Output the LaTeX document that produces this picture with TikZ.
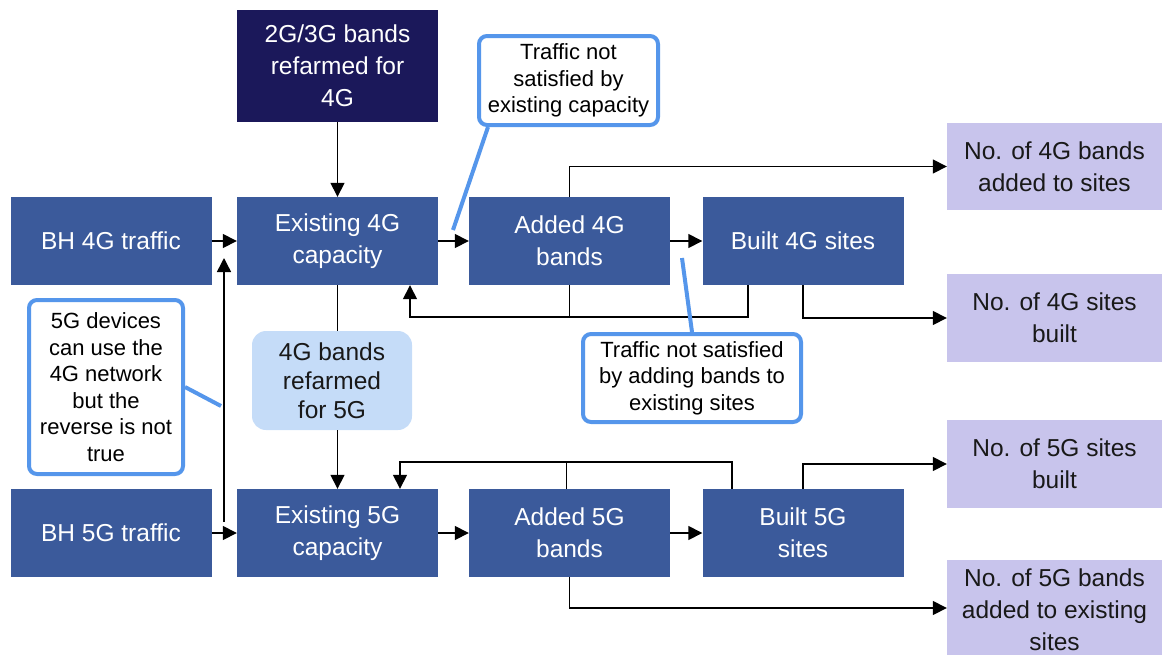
\documentclass[tikz,border=0pt]{standalone}
\usepackage{fontspec}
\setmainfont{Liberation Sans}
\usetikzlibrary{arrows.meta}

\definecolor{boxblue}{HTML}{3B5A9B}
\definecolor{navy}{HTML}{1B185A}
\definecolor{lavender}{HTML}{C8C4EC}
\definecolor{paleblue}{HTML}{C5DCF8}
\definecolor{calloutblue}{HTML}{5596EB}

\tikzset{
  stage/.style={fill=boxblue, text=white, minimum width=201pt, minimum height=88pt,
    inner sep=0pt, align=center, font=\fontsize{24.5}{32}\selectfont},
  source/.style={stage, fill=navy, minimum height=112pt},
  result/.style={fill=lavender, text=black!90, minimum width=215pt, minimum height=88pt,
    inner sep=0pt, align=center, font=\fontsize{24.5}{32}\selectfont},
  refarm/.style={fill=paleblue, text=black!90, rounded corners=14pt, minimum width=160pt,
    minimum height=99pt, inner sep=0pt, align=center, font=\fontsize{24.5}{29}\selectfont},
  note/.style={draw=calloutblue, line width=4pt, fill=white, rounded corners=8pt,
    inner sep=0pt, align=center, text=black, font=\fontsize{22}{26.5}\selectfont},
  link/.style={line width=1.5pt, draw=black},
  arr/.style={link, -{Triangle[length=14pt,width=14pt]}},
  pointer/.style={draw=calloutblue, line width=4pt},
}

\begin{document}
\begin{tikzpicture}[x=1pt,y=-1pt]
\useasboundingbox (0,0) rectangle (1162,654);

% 4G chain
\node[stage] (BH4G) at (111,241) {BH 4G traffic};
\node[stage] (Ex4G) at (337.5,241) {Existing 4G\\capacity};
\node[stage] (Add4G) at (569.5,241) {Added 4G\\bands};
\node[stage] (Built4G) at (803,241) {Built 4G sites};
\node[source] (G23) at (337.5,66) {2G/3G bands\\refarmed for\\4G};

% 5G chain
\node[stage] (BH5G) at (111,533) {BH 5G traffic};
\node[stage] (Ex5G) at (337.5,533) {Existing 5G\\capacity};
\node[stage] (Add5G) at (569.5,533) {Added 5G\\bands};
\node[stage] (Built5G) at (803,533) {Built 5G\\sites};

\node[refarm] (Ref5) at (332,380.5) {4G bands\\refarmed\\for 5G};

% outputs
\node[result, minimum height=87pt] (Out4B) at (1054.5,166.5) {No. of 4G bands\\added to sites};
\node[result] (Out4S) at (1054.5,318) {No. of 4G sites\\built};
\node[result] (Out5S) at (1054.5,464) {No. of 5G sites\\built};
\node[result, minimum height=100pt] (Out5B) at (1054.5,610) {No. of 5G bands\\added to existing\\sites};

% 4G connectors
\draw[arr] (G23.south) -- (Ex4G.north);
\draw[arr] (BH4G.east) -- (Ex4G.west);
\draw[arr] (Ex4G.east) -- (Add4G.west);
\draw[arr] (Add4G.east) -- (Built4G.west);
\draw[arr] (Add4G.north) |- (Out4B.west);
\draw[arr] (Built4G.south) |- (Out4S.west);
\draw[link] (Add4G.south) -- ++(0,32);
\draw[arr] ([xshift=-55pt]Built4G.south) -- ++(0,32) -| ([xshift=72.5pt]Ex4G.south);

% 4G capacity handed over to 5G
\draw[link] (Ex4G.south) -- (Ref5.north -| Ex4G.south);
\draw[arr] (Ref5.south -| Ex5G.north) -- (Ex5G.north);

% 5G devices also load the 4G network
\coordinate (up0) at (224,522);
\coordinate (up1) at (224,258);
\draw[arr] (up0) -- (up1);

% 5G connectors
\draw[arr] (BH5G.east) -- (Ex5G.west);
\draw[arr] (Ex5G.east) -- (Add5G.west);
\draw[arr] (Add5G.east) -- (Built5G.west);
\draw[link] ([xshift=-3pt]Add5G.north) -- ++(0,-27);
\draw[arr] ([xshift=-71pt]Built5G.north) -- ++(0,-27) -| ([xshift=62.5pt]Ex5G.north);
\draw[arr] (Built5G.north) |- (Out5S.west);
\draw[arr] (Add5G.south) |- ([yshift=2pt]Out5B.west);

% callouts
\coordinate (p1) at (453,230);
\coordinate (p2) at (682,258);
\coordinate (p3) at (221,406);
\node[note, minimum width=179pt, minimum height=89pt] (C1) at (568.5,80.5)
  {Traffic not\\satisfied by\\existing capacity};
\node[note, minimum width=218pt, minimum height=88pt] (C2) at (692,378)
  {Traffic not satisfied\\by adding bands to\\existing sites};
\node[note, minimum width=154pt, minimum height=174pt] (C3) at (106,387)
  {5G devices\\can use the\\4G network\\but the\\reverse is not\\true};
\draw[pointer] ([xshift=11pt]C1.south west) -- (p1);
\draw[pointer] (C2.north) -- (p2);
\draw[pointer] (C3.east) -- (p3);
\end{tikzpicture}
\end{document}
